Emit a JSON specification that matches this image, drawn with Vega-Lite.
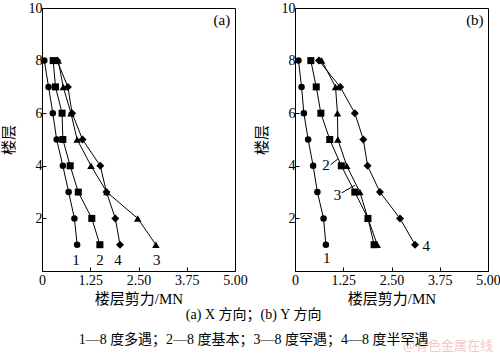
{
  "$schema": "https://vega.github.io/schema/vega-lite/v6.json",
  "padding": {"left": 0, "top": 0, "right": 0, "bottom": 0},
  "background": "white",
  "config": {
    "view": {"stroke": "black", "strokeWidth": 1},
    "font": "Liberation Serif, Noto Sans CJK SC",
    "axis": {
      "domain": false,
      "grid": false,
      "ticks": true,
      "tickSize": -4,
      "tickColor": "black",
      "labelFont": "Liberation Serif",
      "labelFontSize": 14,
      "labelColor": "black",
      "titleFont": "Liberation Serif, Noto Sans CJK SC",
      "titleFontSize": 15,
      "titleFontWeight": "normal",
      "titleColor": "black"
    },
    "axisX": {"labelPadding": 6, "titlePadding": 4},
    "axisY": {"labelPadding": 4, "titlePadding": 12}
  },
  "title": {
    "text": "(a) X 方向；(b) Y 方向",
    "subtitle": "1—8 度多遇；2—8 度基本；3—8 度罕遇；4—8 度半罕遇",
    "orient": "bottom",
    "anchor": "middle",
    "font": "Liberation Serif, Noto Sans CJK SC",
    "subtitleFont": "Liberation Serif, Noto Sans CJK SC",
    "fontSize": 14,
    "subtitleFontSize": 14,
    "fontWeight": "normal",
    "color": "black",
    "subtitleColor": "black",
    "offset": -45,
    "subtitlePadding": 11,
    "dx": 3
  },
  "datasets": {
    "pts": [
      {"panel": "a", "series": "1", "floor": 8, "v": 0.06},
      {"panel": "a", "series": "1", "floor": 7, "v": 0.17},
      {"panel": "a", "series": "1", "floor": 6, "v": 0.28},
      {"panel": "a", "series": "1", "floor": 5, "v": 0.38},
      {"panel": "a", "series": "1", "floor": 4, "v": 0.54},
      {"panel": "a", "series": "1", "floor": 3, "v": 0.69},
      {"panel": "a", "series": "1", "floor": 2, "v": 0.84},
      {"panel": "a", "series": "1", "floor": 1, "v": 0.91},
      {"panel": "a", "series": "2", "floor": 8, "v": 0.29},
      {"panel": "a", "series": "2", "floor": 7, "v": 0.35},
      {"panel": "a", "series": "2", "floor": 6, "v": 0.52},
      {"panel": "a", "series": "2", "floor": 5, "v": 0.54},
      {"panel": "a", "series": "2", "floor": 4, "v": 0.73},
      {"panel": "a", "series": "2", "floor": 3, "v": 0.94},
      {"panel": "a", "series": "2", "floor": 2, "v": 1.29},
      {"panel": "a", "series": "2", "floor": 1, "v": 1.5},
      {"panel": "a", "series": "3", "floor": 8, "v": 0.42},
      {"panel": "a", "series": "3", "floor": 7, "v": 0.55},
      {"panel": "a", "series": "3", "floor": 6, "v": 0.75},
      {"panel": "a", "series": "3", "floor": 5, "v": 0.91},
      {"panel": "a", "series": "3", "floor": 4, "v": 1.27},
      {"panel": "a", "series": "3", "floor": 3, "v": 1.68},
      {"panel": "a", "series": "3", "floor": 2, "v": 2.48},
      {"panel": "a", "series": "3", "floor": 1, "v": 2.95},
      {"panel": "a", "series": "4", "floor": 8, "v": 0.39},
      {"panel": "a", "series": "4", "floor": 7, "v": 0.67},
      {"panel": "a", "series": "4", "floor": 6, "v": 0.78},
      {"panel": "a", "series": "4", "floor": 5, "v": 1.05},
      {"panel": "a", "series": "4", "floor": 4, "v": 1.51},
      {"panel": "a", "series": "4", "floor": 3, "v": 1.67},
      {"panel": "a", "series": "4", "floor": 2, "v": 1.9},
      {"panel": "a", "series": "4", "floor": 1, "v": 2.02},
      {"panel": "b", "series": "1", "floor": 8, "v": 0.09},
      {"panel": "b", "series": "1", "floor": 7, "v": 0.17},
      {"panel": "b", "series": "1", "floor": 6, "v": 0.23},
      {"panel": "b", "series": "1", "floor": 5, "v": 0.34},
      {"panel": "b", "series": "1", "floor": 4, "v": 0.47},
      {"panel": "b", "series": "1", "floor": 3, "v": 0.58},
      {"panel": "b", "series": "1", "floor": 2, "v": 0.74},
      {"panel": "b", "series": "1", "floor": 1, "v": 0.8},
      {"panel": "b", "series": "2", "floor": 8, "v": 0.41},
      {"panel": "b", "series": "2", "floor": 7, "v": 0.55},
      {"panel": "b", "series": "2", "floor": 6, "v": 0.67},
      {"panel": "b", "series": "2", "floor": 5, "v": 0.9},
      {"panel": "b", "series": "2", "floor": 4, "v": 1.2},
      {"panel": "b", "series": "2", "floor": 3, "v": 1.55},
      {"panel": "b", "series": "2", "floor": 2, "v": 1.89},
      {"panel": "b", "series": "2", "floor": 1, "v": 2.05},
      {"panel": "b", "series": "3", "floor": 8, "v": 0.69},
      {"panel": "b", "series": "3", "floor": 7, "v": 1.05},
      {"panel": "b", "series": "3", "floor": 6, "v": 1.1},
      {"panel": "b", "series": "3", "floor": 5, "v": 1.11},
      {"panel": "b", "series": "3", "floor": 4, "v": 1.34},
      {"panel": "b", "series": "3", "floor": 3, "v": 1.68},
      {"panel": "b", "series": "3", "floor": 2, "v": 1.89},
      {"panel": "b", "series": "3", "floor": 1, "v": 2.13},
      {"panel": "b", "series": "4", "floor": 8, "v": 0.62},
      {"panel": "b", "series": "4", "floor": 7, "v": 1.17},
      {"panel": "b", "series": "4", "floor": 6, "v": 1.55},
      {"panel": "b", "series": "4", "floor": 5, "v": 1.77},
      {"panel": "b", "series": "4", "floor": 4, "v": 1.88},
      {"panel": "b", "series": "4", "floor": 3, "v": 2.2},
      {"panel": "b", "series": "4", "floor": 2, "v": 2.72},
      {"panel": "b", "series": "4", "floor": 1, "v": 3.11}
    ],
    "labels": [
      {"panel": "a", "text": "1", "v": 0.88, "floor": 0.42},
      {"panel": "a", "text": "2", "v": 1.5, "floor": 0.42},
      {"panel": "a", "text": "4", "v": 1.97, "floor": 0.42},
      {"panel": "a", "text": "3", "v": 2.97, "floor": 0.42},
      {"panel": "a", "text": "(a)", "v": 4.66, "floor": 9.55},
      {"panel": "b", "text": "1", "v": 0.82, "floor": 0.49},
      {"panel": "b", "text": "4", "v": 3.4, "floor": 0.95},
      {"panel": "b", "text": "2", "v": 0.8, "floor": 4.03},
      {"panel": "b", "text": "3", "v": 1.1, "floor": 2.89},
      {"panel": "b", "text": "(b)", "v": 4.66, "floor": 9.55}
    ],
    "watermark": [
      {"text": "@有色金属在线", "v": 3.96, "floor": -2.85}
    ],
    "leaders": [
      {"panel": "b", "v": 0.925, "floor": 4.04, "v2": 1.11, "floor2": 4.26},
      {"panel": "b", "v": 1.21, "floor": 2.97, "v2": 1.55, "floor2": 3.26}
    ]
  },
  "hconcat": [
    {
      "width": 193,
      "height": 263,
      "layer": [
        {
          "data": {"name": "pts"},
          "transform": [{"filter": "datum.panel == 'a'"}],
          "mark": {"type": "line", "color": "black", "strokeWidth": 1},
          "encoding": {
            "x": {"field": "v", "type": "quantitative", "scale": {"domain": [0, 5], "nice": false, "zero": false}, "axis": {"title": "楼层剪力/MN", "values": [0, 1.25, 2.5, 3.75, 5], "labelExpr": "datum.value == 0 ? '0' : format(datum.value, '.2f')", "labelFlush": false}},
            "y": {"field": "floor", "type": "quantitative", "scale": {"domain": [0, 10], "nice": false}, "axis": {"title": "楼层", "values": [2, 4, 6, 8, 10]}},
            "detail": {"field": "series"},
            "order": {"field": "floor"}
          }
        },
        {
          "data": {"name": "pts"},
          "transform": [{"filter": "datum.panel == 'a'"}],
          "mark": {"type": "point", "filled": true, "color": "black", "opacity": 1},
          "encoding": {
            "x": {"field": "v", "type": "quantitative"},
            "y": {"field": "floor", "type": "quantitative"},
            "shape": {"field": "series", "type": "nominal", "scale": {"domain": ["1", "2", "3", "4"], "range": ["circle", "square", "triangle-up", "diamond"]}, "legend": null},
            "size": {"field": "series", "type": "nominal", "scale": {"domain": ["1", "2", "3", "4"], "range": [42, 64, 60, 52]}, "legend": null}
          }
        },
        {
          "data": {"name": "labels"},
          "transform": [{"filter": "datum.panel == 'a'"}],
          "mark": {"type": "text", "font": "Liberation Serif", "fontSize": 15, "color": "black", "align": "center", "baseline": "middle"},
          "encoding": {
            "x": {"field": "v", "type": "quantitative"},
            "y": {"field": "floor", "type": "quantitative"},
            "text": {"field": "text"}
          }
        }
      ]
    },
    {
      "width": 193,
      "height": 263,
      "layer": [
        {
          "data": {"name": "pts"},
          "transform": [{"filter": "datum.panel == 'b'"}],
          "mark": {"type": "line", "color": "black", "strokeWidth": 1},
          "encoding": {
            "x": {"field": "v", "type": "quantitative", "scale": {"domain": [0, 5], "nice": false, "zero": false}, "axis": {"title": "楼层剪力/MN", "values": [0, 1.25, 2.5, 3.75, 5], "labelExpr": "datum.value == 0 ? '0' : format(datum.value, '.2f')", "labelFlush": false}},
            "y": {"field": "floor", "type": "quantitative", "scale": {"domain": [0, 10], "nice": false}, "axis": {"title": "楼层", "values": [2, 4, 6, 8, 10]}},
            "detail": {"field": "series"},
            "order": {"field": "floor"}
          }
        },
        {
          "data": {"name": "pts"},
          "transform": [{"filter": "datum.panel == 'b'"}],
          "mark": {"type": "point", "filled": true, "color": "black", "opacity": 1},
          "encoding": {
            "x": {"field": "v", "type": "quantitative"},
            "y": {"field": "floor", "type": "quantitative"},
            "shape": {"field": "series", "type": "nominal", "scale": {"domain": ["1", "2", "3", "4"], "range": ["circle", "square", "triangle-up", "diamond"]}, "legend": null},
            "size": {"field": "series", "type": "nominal", "scale": {"domain": ["1", "2", "3", "4"], "range": [42, 64, 60, 52]}, "legend": null}
          }
        },
        {
          "data": {"name": "leaders"},
          "mark": {"type": "rule", "color": "black", "strokeWidth": 1},
          "encoding": {
            "x": {"field": "v", "type": "quantitative"},
            "y": {"field": "floor", "type": "quantitative"},
            "x2": {"field": "v2"},
            "y2": {"field": "floor2"}
          }
        },
        {
          "data": {"name": "labels"},
          "transform": [{"filter": "datum.panel == 'b'"}],
          "mark": {"type": "text", "font": "Liberation Serif", "fontSize": 15, "color": "black", "align": "center", "baseline": "middle"},
          "encoding": {
            "x": {"field": "v", "type": "quantitative"},
            "y": {"field": "floor", "type": "quantitative"},
            "text": {"field": "text"}
          }
        },
        {
          "data": {"name": "watermark"},
          "mark": {"type": "text", "font": "Noto Sans CJK SC", "fontSize": 13, "color": "#f3c9c9", "align": "center", "baseline": "middle"},
          "encoding": {
            "x": {"field": "v", "type": "quantitative"},
            "y": {"field": "floor", "type": "quantitative"},
            "text": {"field": "text"}
          }
        }
      ]
    }
  ],
  "resolve": {"scale": {"x": "independent", "y": "independent"}},
  "bounds": "flush",
  "spacing": 60
}
